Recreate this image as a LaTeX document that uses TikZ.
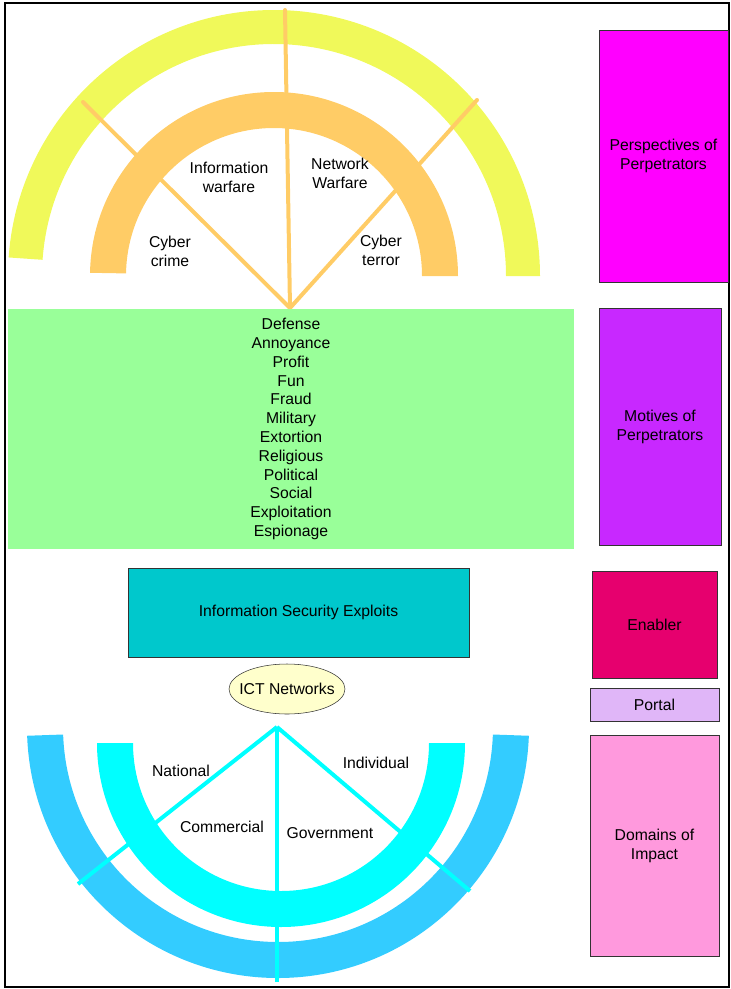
\documentclass[tikz,border=0pt]{standalone}
\usepackage{fontspec}
\setmainfont{Liberation Sans}
\usepackage{tikz}
\usetikzlibrary{positioning}
\usetikzlibrary{shapes}
\definecolor{bandYellow}{RGB}{240,249,90}
\definecolor{bandOrange}{RGB}{255,204,102}
\definecolor{motiveGreen}{RGB}{153,255,153}
\definecolor{exploitTeal}{RGB}{0,200,204}
\definecolor{ictYellow}{RGB}{255,255,204}
\definecolor{bandBlue}{RGB}{51,204,255}
\definecolor{bandCyan}{RGB}{0,255,255}
\definecolor{perspMagenta}{RGB}{255,0,255}
\definecolor{motivePurple}{RGB}{200,40,255}
\definecolor{enablerRed}{RGB}{230,0,110}
\definecolor{portalLilac}{RGB}{224,182,248}
\definecolor{domainPink}{RGB}{255,153,221}
\tikzset{
    label/.style={font=\fontsize{11.8}{14.2}\selectfont, align=center, inner sep=0pt},
    sideBox/.style={draw=black!80, thin, font=\fontsize{11.8}{14.2}\selectfont, align=center, inner sep=0pt},
    topSpoke/.style={bandOrange, line width=3pt, line cap=round},
    lowSpoke/.style={bandCyan, line width=3pt}
}
\begin{document}
\begin{tikzpicture}[x=0.75pt, y=0.75pt]
        \useasboundingbox (0,0) rectangle (731,-989);
        \draw[line width=1.5pt] (5,-3) rectangle (729,-987);
        % perspectives of perpetrators
        \fill[bandYellow, shift={(274,-276)}] (0:266) arc (0:176:266) -- (176:232) arc (176:0:232) -- cycle;
        \fill[bandOrange, shift={(274,-276)}] (0:184) arc (0:179:184) -- (179:148) arc (179:0:148) -- cycle;
        \coordinate (topHub) at (290,-308);
        \coordinate (topN) at (285,-10);
        \coordinate (topW) at (83,-102);
        \coordinate (topE) at (477,-100);
        \draw[topSpoke] (topHub) -- (topN);
        \draw[topSpoke] (topHub) -- (topW);
        \draw[topSpoke] (topHub) -- (topE);
        \node[label] (infoWar) at (229,-177) {Information\\warfare};
        \node[label] (netWar) at (340,-173) {Network\\Warfare};
        \node[label] (cyCrime) at (170,-251) {Cyber\\crime};
        \node[label] (cyTerror) at (381,-250) {Cyber\\terror};
        % motives
        \node[fill=motiveGreen, minimum width=424.5pt, minimum height=180pt, font=\fontsize{11.8}{14.1}\selectfont, align=center, inner sep=0pt] (motives) at (291,-429)
            {Defense\\Annoyance\\Profit\\Fun\\Fraud\\Military\\Extortion\\Religious\\Political\\Social\\Exploitation\\Espionage};
        % enabler and portal
        \node[sideBox, fill=exploitTeal, minimum width=255.75pt, minimum height=66.75pt] (exploits) at (298.5,-612.5) {Information Security Exploits};
        \node[ellipse, draw=black!80, thin, fill=ictYellow, minimum width=87pt, minimum height=37.5pt, inner xsep=-6pt, inner ysep=0pt, font=\fontsize{11.8}{14.2}\selectfont] (ict) at (287,-689) {ICT Networks};
        % domains of impact
        \fill[bandBlue, shift={(278,-727)}] (182:251) arc (182:358:251) -- (358:215) arc (358:182:215) -- cycle;
        \fill[bandCyan, shift={(281,-743)}] (180:184) arc (180:360:184) -- (360:148) arc (360:180:148) -- cycle;
        \coordinate (lowHub) at (277,-727);
        \coordinate (lowW) at (78,-884);
        \coordinate (lowE) at (470,-891);
        \coordinate (lowS) at (277,-982);
        \draw[lowSpoke] (lowHub) -- (lowW);
        \draw[lowSpoke] (lowHub) -- (lowE);
        \draw[lowSpoke] (lowHub) -- (lowS);
        \node[label] (national) at (181,-771) {National};
        \node[label] (individual) at (376,-763) {Individual};
        \node[label] (commercial) at (222,-827) {Commercial};
        \node[label] (government) at (330,-833) {Government};
        % legend column
        \node[sideBox, fill=perspMagenta, minimum width=96.75pt, minimum height=189pt] (perspectives) at (663.5,-156) {Perspectives of\\Perpetrators};
        \node[sideBox, fill=motivePurple, minimum width=91.5pt, minimum height=177.75pt] (motivesKey) at (660,-426.5) {Motives of\\Perpetrators};
        \node[sideBox, fill=enablerRed, minimum width=93.75pt, minimum height=80.25pt] (enabler) at (654.5,-624.5) {Enabler};
        \node[sideBox, fill=portalLilac, minimum width=96.75pt, minimum height=24.75pt] (portal) at (654.5,-704.5) {Portal};
        \node[sideBox, fill=domainPink, minimum width=96.75pt, minimum height=165.75pt] (domains) at (654.5,-845.5) {Domains of\\Impact};
      \end{tikzpicture}
\end{document}
